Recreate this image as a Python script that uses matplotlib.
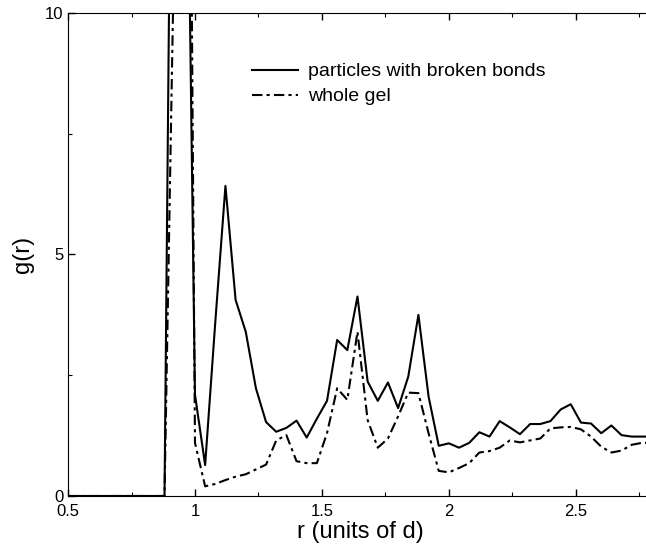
# g(r) for particles with broken bonds compared with the whole gel
import numpy as np
import matplotlib.pyplot as plt

plt.rcParams['font.family'] = ['Liberation Sans', 'DejaVu Sans']

# histogram bins (units of d)
r = [0.50, 0.84, 0.88, 0.92, 0.96, 1.00, 1.04, 1.08, 1.12, 1.16, 1.20, 1.24,
     1.28, 1.32, 1.36, 1.40, 1.44, 1.48, 1.52, 1.56, 1.60, 1.64, 1.68, 1.72,
     1.76, 1.80, 1.84, 1.88, 1.92, 1.96, 2.00, 2.04, 2.08, 2.12, 2.16, 2.20,
     2.24, 2.28, 2.32, 2.36, 2.40, 2.44, 2.48, 2.52, 2.56, 2.60, 2.64, 2.68,
     2.72, 2.76, 2.80]

g_broken = [0.0, 0.0, 0.0, 22.7, 18.0, 2.10, 0.64, 3.60, 6.42, 4.06, 3.40, 2.23,
            1.53, 1.33, 1.41, 1.56, 1.21, 1.60, 1.97, 3.23, 3.02, 4.13, 2.37, 1.97,
            2.35, 1.82, 2.47, 3.75, 2.06, 1.04, 1.09, 1.00, 1.10, 1.32, 1.23, 1.55,
            1.42, 1.28, 1.49, 1.49, 1.55, 1.79, 1.90, 1.52, 1.50, 1.30, 1.46, 1.26,
            1.23, 1.23, 1.23]

g_gel = [0.0, 0.0, 0.0, 12.0, 30.0, 1.10, 0.20, 0.25, 0.33, 0.40, 0.45, 0.55,
         0.65, 1.15, 1.26, 0.72, 0.68, 0.68, 1.30, 2.23, 1.99, 3.40, 1.57, 1.00,
         1.19, 1.65, 2.14, 2.13, 1.30, 0.52, 0.49, 0.58, 0.68, 0.90, 0.93, 1.00,
         1.15, 1.11, 1.15, 1.19, 1.40, 1.42, 1.43, 1.38, 1.23, 1.02, 0.90, 0.94,
         1.06, 1.10, 1.10]

fig = plt.figure(figsize=(6.46, 5.48), dpi=100)
ax = fig.add_axes([0.1053, 0.0949, 0.904, 0.8814])

ax.plot(r, g_broken, color='black', lw=1.5, label='particles with broken bonds')
ax.plot(r, g_gel, color='black', lw=1.5, dashes=(5, 2, 1.5, 2), label='whole gel')

ax.set_xlim(0.5, 2.8)
ax.set_ylim(0, 10)
ax.set_xticks([0.5, 1, 1.5, 2, 2.5])
ax.set_xticklabels(['0.5', '1', '1.5', '2', '2.5'])
ax.set_xticks(np.arange(0.75, 2.8, 0.5), minor=True)
ax.set_yticks([0, 5, 10])
ax.set_yticks([2.5, 7.5], minor=True)

ax.tick_params(which='both', direction='in', top=True, right=False, labelsize=12)
ax.tick_params(which='major', length=5, width=1)
ax.tick_params(which='minor', length=3, width=0.8)
ax.tick_params(axis='x', pad=6)
ax.spines['right'].set_visible(False)

ax.set_xlabel('r (units of d)', fontsize=17, labelpad=1)
ax.set_ylabel('g(r)', fontsize=17, labelpad=8)

ax.legend(loc='upper left', bbox_to_anchor=(0.315, 0.897), frameon=False,
          fontsize=14, handlelength=2.37, handletextpad=0.5, labelspacing=0.38,
          borderpad=0, borderaxespad=0)

fig.savefig('out.png', dpi=100)
